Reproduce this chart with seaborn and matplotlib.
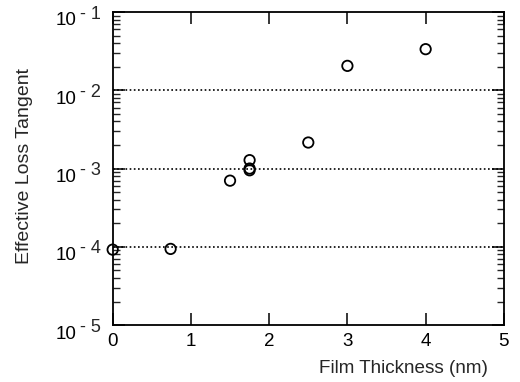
import numpy as np
import pandas as pd
import matplotlib
matplotlib.use("Agg")
import matplotlib.pyplot as plt
import matplotlib.ticker as mticker
import matplotlib.transforms as mtransforms
import seaborn as sns

# =========================
# DATA
# =========================

thickness = [0.0, 0.74, 1.5, 1.75, 1.75, 1.75, 2.5, 3.0, 4.0]
loss_tangent = [9.2e-5, 9.4e-5, 7.0e-4, 1.28e-3, 1.0e-3, 0.95e-3, 2.15e-3, 2.05e-2, 3.35e-2]
ref_lines = [1e-2, 1e-3, 1e-4]
y_ticks = [1e-5, 1e-4, 1e-3, 1e-2, 1e-1]
y_exponents = ["- 5", "- 4", "- 3", "- 2", "- 1"]
x_ticks = [0, 1, 2, 3, 4, 5]

df = pd.DataFrame({"thickness": thickness, "tan_d": loss_tangent})

# =========================
# STYLE
# =========================

sns.set_theme(style="ticks")
plt.rcParams["font.family"] = ["Liberation Sans", "DejaVu Sans"]

fig = plt.figure(figsize=(5.2, 3.82), dpi=100)
ax = fig.add_axes([0.2167, 0.149, 0.7523, 0.8196])

for yv in ref_lines:
    ax.axhline(yv, color="black", linestyle=(0, (1, 1.5)), linewidth=1.2, zorder=1)

sns.scatterplot(data=df, x="thickness", y="tan_d", ax=ax, marker="o", s=56,
                facecolors="none", edgecolor="black", linewidth=1.3, zorder=3,
                clip_on=False)

ax.set_yscale("log")
ax.set_xlim(0, 5)
ax.set_ylim(1e-5, 1e-1)

ax.set_xticks(x_ticks)
ax.set_xticklabels([str(t) for t in x_ticks])
ax.set_yticks(y_ticks)
ax.set_yticklabels(["10"] * len(y_ticks))
ax.yaxis.set_minor_locator(mticker.LogLocator(base=10, subs=np.arange(2, 10)))
ax.yaxis.set_minor_formatter(mticker.NullFormatter())

ax.tick_params(axis="both", which="major", direction="in", length=8.6, width=1.1,
               top=True, right=True, labelsize=13.5, colors="black")
ax.tick_params(axis="x", which="major", pad=6)
ax.tick_params(axis="y", which="major", pad=26)
ax.tick_params(axis="y", which="minor", direction="in", length=5, width=1.0,
               left=True, right=True)
ax.tick_params(axis="x", which="minor", bottom=False, top=False)

# the "10" part sits a little below its tick, like in the original
shift_down = mtransforms.ScaledTranslation(0, -5 / 72, fig.dpi_scale_trans)
for lbl in ax.get_yticklabels():
    lbl.set_transform(lbl.get_transform() + shift_down)

# superscript exponents next to each "10"
for yv, ex in zip(y_ticks, y_exponents):
    ax.annotate(ex, xy=(0, yv), xycoords=("axes fraction", "data"),
                xytext=(-23.5, -1.5), textcoords="offset points",
                ha="left", va="center", fontsize=13, annotation_clip=False)

for sp in ax.spines.values():
    sp.set_linewidth(1.3)
    sp.set_color("black")

ax.set_xlabel("")
ax.set_ylabel("")
fig.text(0.048, 0.565, "Effective Loss Tangent", rotation=90, ha="center",
         va="center", fontsize=14)
fig.text(0.938, 0.036, "Film Thickness (nm)", ha="right", va="center", fontsize=13.6)

fig.savefig("out.png", dpi=100)
